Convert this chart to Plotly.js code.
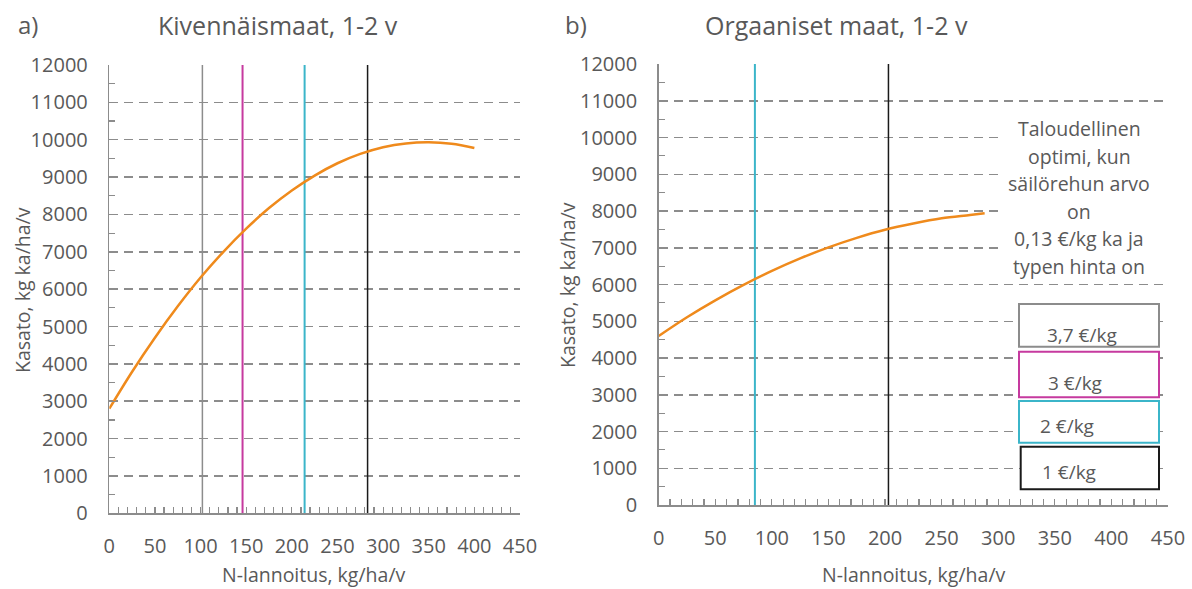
<!DOCTYPE html>
<html>
<head>
<meta charset="utf-8">
<script src="https://cdn.plot.ly/plotly-3.0.1.min.js"></script>
<style>html,body{margin:0;padding:0;background:#fff;}#chart{width:1192px;height:589px;}</style>
</head>
<body>
<div id="chart"></div>
<script>
// ---- data ----
const nLeft = [0, 25, 50, 75, 100, 125, 150, 175, 200, 225, 250, 275, 300, 325, 350, 375, 400];
const yieldLeft = [2800, 3790, 4700, 5540, 6310, 7000, 7620, 8170, 8640, 9040, 9370, 9620, 9800, 9900, 9930, 9890, 9780];
const nRight = [0, 25, 50, 75, 100, 125, 150, 175, 200, 225, 250, 275, 288];
const yieldRight = [4600, 5110, 5570, 5990, 6370, 6710, 7010, 7270, 7490, 7660, 7800, 7890, 7940];
const prices = ["3,7 €/kg", "3 €/kg", "2 €/kg", "1 €/kg"];
const priceColors = ["#8c8c8c", "#c63a9f", "#3bb5c9", "#1a1a1a"];
const optimaLeft = [102, 146, 214, 283];      // per price
const optimaRight = [null, null, 85, 203];    // per price
const yMax = 12000;
const xTickLabels = ["0","50","100","150","200","250","300","350","400","450"];
const titles = ["Kivennäismaat, 1-2 v", "Orgaaniset maat, 1-2 v"];
const panelLabels = ["a)", "b)"];
const xTitle = "N-lannoitus, kg/ha/v";
const yTitle = "Kasato, kg ka/ha/v";
const noteLines = ["Taloudellinen", "optimi, kun", "säilörehun arvo", "on", "0,13 €/kg ka ja", "typen hinta on"];

// ---- helpers ----
const W = 1192, H = 589;
const px = x => x / W;
const py = y => 1 - y / H;
const FONT = "Open Sans, Noto Sans, sans-serif";
const TXT = "#595959";
const AX = "#8c8c8c";

const traces = [];
const vlineWidths = [1.5, 2, 2, 1.5];
prices.forEach((p, i) => {
  if (optimaLeft[i] != null) traces.push({x: [optimaLeft[i], optimaLeft[i]], y: [0, yMax], mode: "lines",
    line: {color: priceColors[i], width: vlineWidths[i]}, xaxis: "x", yaxis: "y", hoverinfo: "skip", showlegend: false});
  if (optimaRight[i] != null) traces.push({x: [optimaRight[i], optimaRight[i]], y: [0, yMax], mode: "lines",
    line: {color: priceColors[i], width: vlineWidths[i]}, xaxis: "x2", yaxis: "y2", hoverinfo: "skip", showlegend: false});
});
traces.push({x: nLeft, y: yieldLeft, mode: "lines", line: {color: "#ef8a1c", width: 2.5, shape: "spline"}, xaxis: "x", yaxis: "y", showlegend: false});
traces.push({x: nRight, y: yieldRight, mode: "lines", line: {color: "#ef8a1c", width: 2.5, shape: "spline"}, xaxis: "x2", yaxis: "y2", showlegend: false});

const xTickVals = xTickLabels.map(Number);
function xAx(domain) {
  return {domain, range: [0, 450], tickmode: "array", tickvals: xTickVals, ticktext: xTickLabels,
    ticks: "inside", ticklen: 6, tickcolor: AX, tickwidth: 1.2,
    minor: {dtick: 10, tick0: 0, ticks: "inside", ticklen: 6, tickcolor: AX, tickwidth: 1.2},
    showline: true, linecolor: AX, linewidth: 1.5, showgrid: false, zeroline: false,
    tickfont: {family: FONT, size: 20, color: TXT}, ticklabelstandoff: 14, fixedrange: true};
}
function yAx(domain) {
  return {domain, range: [0, yMax], dtick: 1000, tick0: 0, tickformat: "d",
    ticks: "inside", ticklen: 6, tickcolor: AX, tickwidth: 1.2,
    minor: {dtick: 500, tick0: 0, ticks: "inside", ticklen: 6, tickcolor: AX, tickwidth: 1.2},
    showline: true, linecolor: AX, linewidth: 1.5, showgrid: true, gridcolor: AX, gridwidth: 1.5, griddash: "9px,6px",
    zeroline: false, tickfont: {family: FONT, size: 20, color: TXT}, ticklabelstandoff: 16, fixedrange: true};
}

const annotations = [];
const shapes = [];
function txt(text, x, y, size, extra) {
  annotations.push(Object.assign({text, x: px(x), y: py(y), xref: "paper", yref: "paper", xanchor: "center", yanchor: "middle",
    showarrow: false, font: {family: FONT, size, color: TXT}}, extra || {}));
}
// titles
txt(panelLabels[0], 28, 25, 24);
txt(titles[0], 278, 25, 25);
txt(panelLabels[1], 576, 25, 24);
txt(titles[1], 836, 25, 25);
// axis titles
txt(xTitle, 314, 574, 19.5);
txt(xTitle, 914, 574, 19.5);
txt(yTitle, 22, 290, 19.5, {textangle: -90});
txt(yTitle, 567, 285, 19.5, {textangle: -90});

// white panel behind the note text
shapes.push({type: "rect", xref: "paper", yref: "paper", x0: px(1003), x1: px(1192), y0: py(112), y1: py(278),
  fillcolor: "#ffffff", line: {width: 0}, layer: "above"});
const noteY = [128.3, 156, 183.3, 211.7, 239, 266.7];
noteLines.forEach((t, i) => txt(t, 1079, noteY[i], 19.5));

// price boxes
const boxes = [[1019, 1159, 304, 346.7], [1019, 1159, 351.7, 397.3], [1019, 1159, 401, 442.7], [1020.7, 1159, 446.7, 489.3]];
const boxText = [[1045, 335], [1045.7, 383], [1038, 426], [1040, 471.7]];
prices.forEach((p, i) => {
  const b = boxes[i];
  shapes.push({type: "rect", xref: "paper", yref: "paper", x0: px(b[0]), x1: px(b[1]), y0: py(b[3]), y1: py(b[2]),
    fillcolor: "#ffffff", line: {color: priceColors[i], width: 2}, layer: "above"});
  txt(p, boxText[i][0], boxText[i][1], 19, {xanchor: "left"});
});

const layout = {
  width: W, height: H, margin: {l: 0, r: 0, t: 0, b: 0}, paper_bgcolor: "#ffffff", plot_bgcolor: "#ffffff",
  showlegend: false,
  xaxis: xAx([px(109.3), px(520)]),
  yaxis: yAx([py(513.3), py(65)]),
  xaxis2: Object.assign(xAx([px(658.7), px(1168)]), {anchor: "y2"}),
  yaxis2: Object.assign(yAx([py(505), py(64)]), {anchor: "x2"}),
  annotations, shapes
};
layout.xaxis.anchor = "y";
layout.yaxis.anchor = "x";
Plotly.newPlot("chart", traces, layout, {displayModeBar: false, staticPlot: true});
</script>
</body>
</html>
